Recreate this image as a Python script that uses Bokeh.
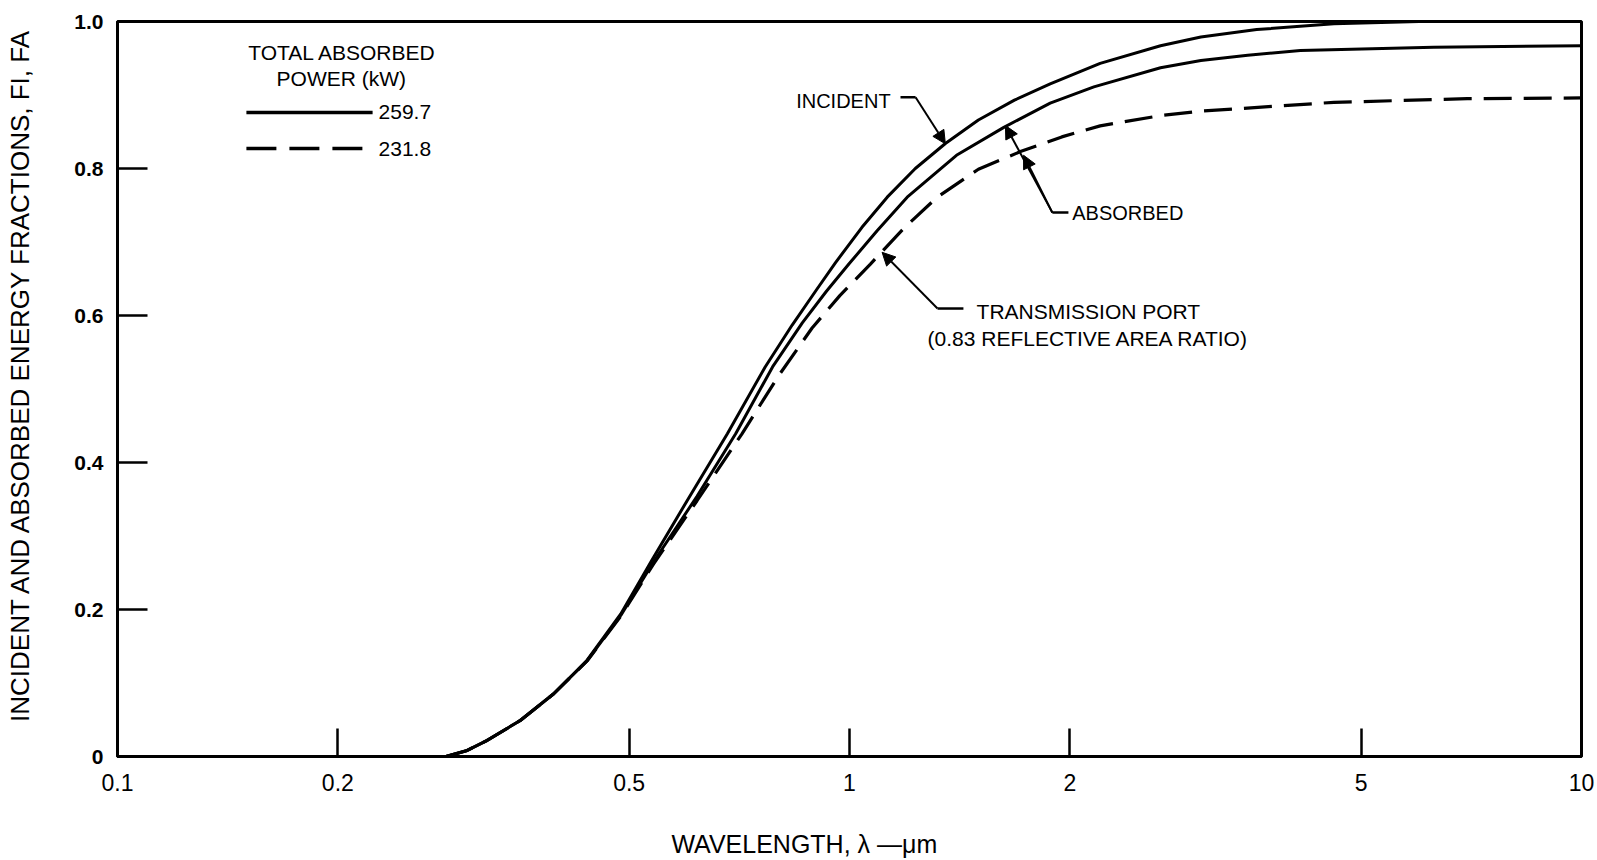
from bokeh.plotting import figure
from bokeh.models import Range1d, FixedTicker, CustomJSTickFormatter, Label, Arrow, NormalHead
from bokeh.embed import file_html
from bokeh.resources import INLINE

# ---- data ----
incident_wl = [0.281, 0.300, 0.320, 0.355, 0.394, 0.438, 0.487, 0.537, 0.600, 0.681, 0.767,
               0.835, 0.900, 0.957, 1.040, 1.126, 1.230, 1.352, 1.500, 1.680, 1.880,
               2.200, 2.660, 3.020, 3.600, 4.590, 6.000, 10.0]
incident_f = [0.0, 0.008, 0.022, 0.049, 0.085, 0.131, 0.194, 0.267, 0.348, 0.439, 0.530,
              0.587, 0.634, 0.672, 0.720, 0.761, 0.800, 0.834, 0.866, 0.893, 0.915,
              0.943, 0.967, 0.979, 0.989, 0.997, 1.0, 1.0]

absorbed_wl = [0.281, 0.300, 0.320, 0.355, 0.394, 0.438, 0.487, 0.540, 0.619, 0.699, 0.785,
               0.862, 0.930, 0.998, 1.090, 1.199, 1.400, 1.625, 1.880, 2.157, 2.660,
               3.020, 3.500, 4.130, 6.280, 10.0]
absorbed_f = [0.0, 0.008, 0.022, 0.049, 0.085, 0.130, 0.192, 0.265, 0.354, 0.439, 0.530,
              0.590, 0.633, 0.670, 0.715, 0.761, 0.818, 0.856, 0.889, 0.911, 0.937,
              0.947, 0.954, 0.9605, 0.965, 0.967]

port_wl = [0.281, 0.300, 0.320, 0.355, 0.394, 0.438, 0.487, 0.540, 0.619, 0.713, 0.800,
           0.889, 0.970, 1.068, 1.190, 1.318, 1.500, 1.712, 1.950, 2.200, 2.660,
           3.020, 4.590, 6.980, 10.0]
port_f = [0.0, 0.008, 0.022, 0.049, 0.085, 0.130, 0.191, 0.262, 0.348, 0.439, 0.518,
          0.583, 0.627, 0.670, 0.720, 0.761, 0.799, 0.823, 0.843, 0.858, 0.872,
          0.878, 0.890, 0.895, 0.896]

x_ticks = [0.1, 0.2, 0.5, 1, 2, 5, 10]
y_ticks = [0, 0.2, 0.4, 0.6, 0.8, 1.0]

legend_title = ["TOTAL ABSORBED", "POWER (kW)"]
legend_values = ["259.7", "231.8"]

NBSP = "\u00a0"

# ---- figure ----
p = figure(width=1597, height=860, x_axis_type="log",
           x_range=Range1d(0.1, 10), y_range=Range1d(0, 1.0),
           output_backend="svg", toolbar_location=None,
           min_border_left=117, min_border_right=16, min_border_top=21, min_border_bottom=104)
p.background_fill_color = "white"
p.border_fill_color = "white"
p.xgrid.visible = False
p.ygrid.visible = False
p.outline_line_color = "black"
p.outline_line_width = 3
p.outline_line_alpha = 1.0

FONT = "Liberation Sans"

xa = p.xaxis[0]
xa.ticker = FixedTicker(ticks=x_ticks, minor_ticks=[])
xa.formatter = CustomJSTickFormatter(code="return tick.toString();")
xa.axis_line_width = 3
xa.major_tick_in = 28
xa.major_tick_out = 0
xa.major_tick_line_width = 2.5
xa.minor_tick_line_color = None
xa.major_label_text_font = FONT
xa.major_label_text_font_size = "23px"
xa.major_label_text_color = "black"
xa.major_label_standoff = 17
# trailing non-breaking spaces shift the visible title left of centre, as in the reference
xa.axis_label = "WAVELENGTH, λ —μm" + NBSP * 13
xa.axis_label_text_font = FONT
xa.axis_label_text_font_style = "normal"
xa.axis_label_text_font_size = "25px"
xa.axis_label_text_color = "black"
xa.axis_label_standoff = 36

ya = p.yaxis[0]
ya.ticker = FixedTicker(ticks=y_ticks, minor_ticks=[])
ya.formatter = CustomJSTickFormatter(code="return tick == 0 ? '0' : tick.toFixed(1);")
ya.axis_line_width = 3
ya.major_tick_in = 30
ya.major_tick_out = 0
ya.major_tick_line_width = 2.5
ya.minor_tick_line_color = None
ya.major_label_text_font = FONT
ya.major_label_text_font_style = "bold"
ya.major_label_text_font_size = "21px"
ya.major_label_text_color = "black"
ya.major_label_standoff = 14
ya.axis_label = NBSP * 4 + "INCIDENT AND ABSORBED ENERGY FRACTIONS, FI, FA"
ya.axis_label_text_font = FONT
ya.axis_label_text_font_style = "normal"
ya.axis_label_text_font_size = "26px"
ya.axis_label_text_color = "black"
ya.axis_label_standoff = 36

# ---- curves ----
p.line(incident_wl, incident_f, line_color="black", line_width=3)
p.line(absorbed_wl, absorbed_f, line_color="black", line_width=3)
p.line(port_wl, port_f, line_color="black", line_width=3.2, line_dash="28 12")

# ---- legend block (annotation positions in data space) ----
p.add_layout(Label(x=0.2029, y=0.9578, text=legend_title[0], text_align="center", text_baseline="middle",
                   text_font=FONT, text_font_size="21px", text_color="black"))
p.add_layout(Label(x=0.2022, y=0.9224, text=legend_title[1], text_align="center", text_baseline="middle",
                   text_font=FONT, text_font_size="21px", text_color="black"))
p.line([0.150, 0.2231], [0.8762, 0.8762], line_color="black", line_width=3.5)
p.line([0.150, 0.2195], [0.8272, 0.8272], line_color="black", line_width=3.5, line_dash="30 13")
p.add_layout(Label(x=0.2273, y=0.8762, text=legend_values[0], text_align="left", text_baseline="middle",
                   text_font=FONT, text_font_size="21px", text_color="black"))
p.add_layout(Label(x=0.2273, y=0.8272, text=legend_values[1], text_align="left", text_baseline="middle",
                   text_font=FONT, text_font_size="21px", text_color="black"))

# ---- callouts ----
def head():
    return NormalHead(size=13, fill_color="black", line_color="black", line_width=1)

# INCIDENT
p.add_layout(Label(x=1.138, y=0.8925, text="INCIDENT", text_align="right", text_baseline="middle",
                   text_font=FONT, text_font_size="20px", text_color="black"))
p.line([1.174, 1.231], [0.897, 0.897], line_color="black", line_width=2.5)
p.add_layout(Arrow(end=head(), x_start=1.231, y_start=0.897, x_end=1.352, y_end=0.8336,
                   line_color="black", line_width=2))

# ABSORBED
p.add_layout(Label(x=2.015, y=0.7388, text="ABSORBED", text_align="left", text_baseline="middle",
                   text_font=FONT, text_font_size="20px", text_color="black"))
p.line([1.893, 1.991], [0.740, 0.740], line_color="black", line_width=2.5)
p.add_layout(Arrow(end=head(), x_start=1.893, y_start=0.740, x_end=1.633, y_end=0.8585,
                   line_color="black", line_width=2))
p.add_layout(Arrow(end=head(), x_start=1.893, y_start=0.740, x_end=1.729, y_end=0.818,
                   line_color="black", line_width=2))

# TRANSMISSION PORT
p.add_layout(Label(x=2.12, y=0.6054, text="TRANSMISSION PORT", text_align="center", text_baseline="middle",
                   text_font=FONT, text_font_size="21px", text_color="black"))
p.add_layout(Label(x=2.12, y=0.5687, text="(0.83 REFLECTIVE AREA RATIO)", text_align="center",
                   text_baseline="middle", text_font=FONT, text_font_size="21px", text_color="black"))
p.line([1.319, 1.431], [0.6095, 0.6095], line_color="black", line_width=2.5)
p.add_layout(Arrow(end=head(), x_start=1.319, y_start=0.6095, x_end=1.108, y_end=0.686,
                   line_color="black", line_width=2))

open("out.html", "w").write(file_html(p, INLINE))
